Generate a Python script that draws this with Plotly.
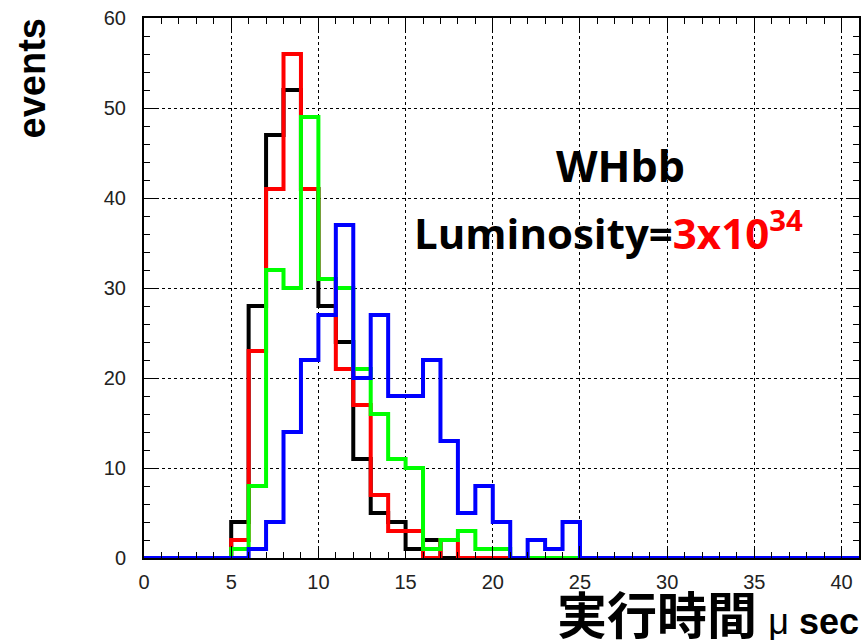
import plotly.graph_objects as go

# bin lower edges (width 1), plus final edge
edges = list(range(42))

black = [0, 0, 0, 0, 0, 4, 28, 47, 52, 41, 28, 24, 11, 5, 4, 1, 2, 0, 0, 0,
         0, 0, 0, 0, 0, 0, 0, 0, 0, 0, 0, 0, 0, 0, 0, 0, 0, 0, 0, 0, 0]
red = [0, 0, 0, 0, 0, 2, 23, 41, 56, 41, 31, 21, 17, 7, 3, 3, 0, 2, 0, 0,
       0, 0, 0, 0, 0, 0, 0, 0, 0, 0, 0, 0, 0, 0, 0, 0, 0, 0, 0, 0, 0]
green = [0, 0, 0, 0, 0, 1, 8, 32, 30, 49, 31, 30, 21, 16, 11, 10, 1, 2, 3, 1,
         1, 0, 0, 0, 0, 0, 0, 0, 0, 0, 0, 0, 0, 0, 0, 0, 0, 0, 0, 0, 0]
blue = [0, 0, 0, 0, 0, 0, 1, 4, 14, 22, 27, 37, 20, 27, 18, 18, 22, 13, 5, 8,
        4, 0, 2, 1, 4, 0, 0, 0, 0, 0, 0, 0, 0, 0, 0, 0, 0, 0, 0, 0, 0]

series = [("black", black, "#000000"), ("red", red, "#ff0000"),
          ("green", green, "#00ff00"), ("blue", blue, "#0000ff")]

fig = go.Figure()
for name, vals, col in series:
    fig.add_trace(go.Scatter(
        x=edges, y=vals + [vals[-1]], mode="lines", line_shape="hv",
        line=dict(color=col, width=4), name=name, showlegend=False,
        cliponaxis=False))

tickfont = dict(family="Liberation Sans, Arial, sans-serif", size=20, color="#222")
fig.update_xaxes(range=[0, 41], tickmode="array", tickvals=[0, 5, 10, 15, 20, 25, 30, 35, 40],
                 ticks="inside", ticklen=12, tickcolor="black", tickwidth=1,
                 showline=True, linecolor="black", linewidth=2, mirror="allticks",
                 showgrid=True, gridcolor="black", griddash="dot", gridwidth=1,
                 zeroline=False, tickfont=tickfont, ticklabelstandoff=5,
                 minor=dict(dtick=1, ticks="inside", ticklen=6, tickcolor="black", showgrid=False))
fig.update_yaxes(range=[0, 60], tickmode="array", tickvals=[0, 10, 20, 30, 40, 50, 60],
                 ticks="inside", ticklen=12, tickcolor="black", tickwidth=1,
                 showline=True, linecolor="black", linewidth=2, mirror="allticks",
                 showgrid=True, gridcolor="black", griddash="dot", gridwidth=1,
                 zeroline=False, tickfont=tickfont, ticklabelstandoff=12,
                 minor=dict(dtick=2, ticks="inside", ticklen=6, tickcolor="black", showgrid=False))

big = dict(family="Open Sans, sans-serif", size=43, color="black")
lum = dict(family="Open Sans, sans-serif", size=42, color="black")
fig.update_layout(
    width=861, height=640, margin=dict(l=144, r=0, t=18, b=82),
    paper_bgcolor="white", plot_bgcolor="white",
    annotations=[
        dict(text="<b>events</b>", xref="paper", yref="paper", x=-144/717, y=1, xanchor="center",
             yanchor="top", textangle=-90, showarrow=False, xshift=32, yshift=2,
             font=dict(family="Liberation Sans, Arial, sans-serif", size=38, color="black")),
        dict(text="<b>実行時間</b> <span style='font-family:Liberation Sans;font-size:36px'>μ <b>sec</b></span>",
             xref="paper", yref="paper", x=1, y=0, xanchor="right", yanchor="bottom", yshift=-92,
             xshift=2, showarrow=False,
             font=dict(family="Noto Sans CJK JP, sans-serif", size=50, color="black")),
        dict(text="<b>WHbb</b>", xref="paper", yref="paper", x=(622-144)/717, y=(558-165)/540,
             xanchor="center", yanchor="middle", showarrow=False, font=big),
        dict(text="<b>Luminosity=<span style='color:#ff0000'>3x10<sup>34</sup></span></b>",
             xref="paper", yref="paper", x=(413-144)/717, y=(558-230)/540,
             xanchor="left", yanchor="middle", showarrow=False, font=lum),
    ],
)

fig.write_html("out.html")
